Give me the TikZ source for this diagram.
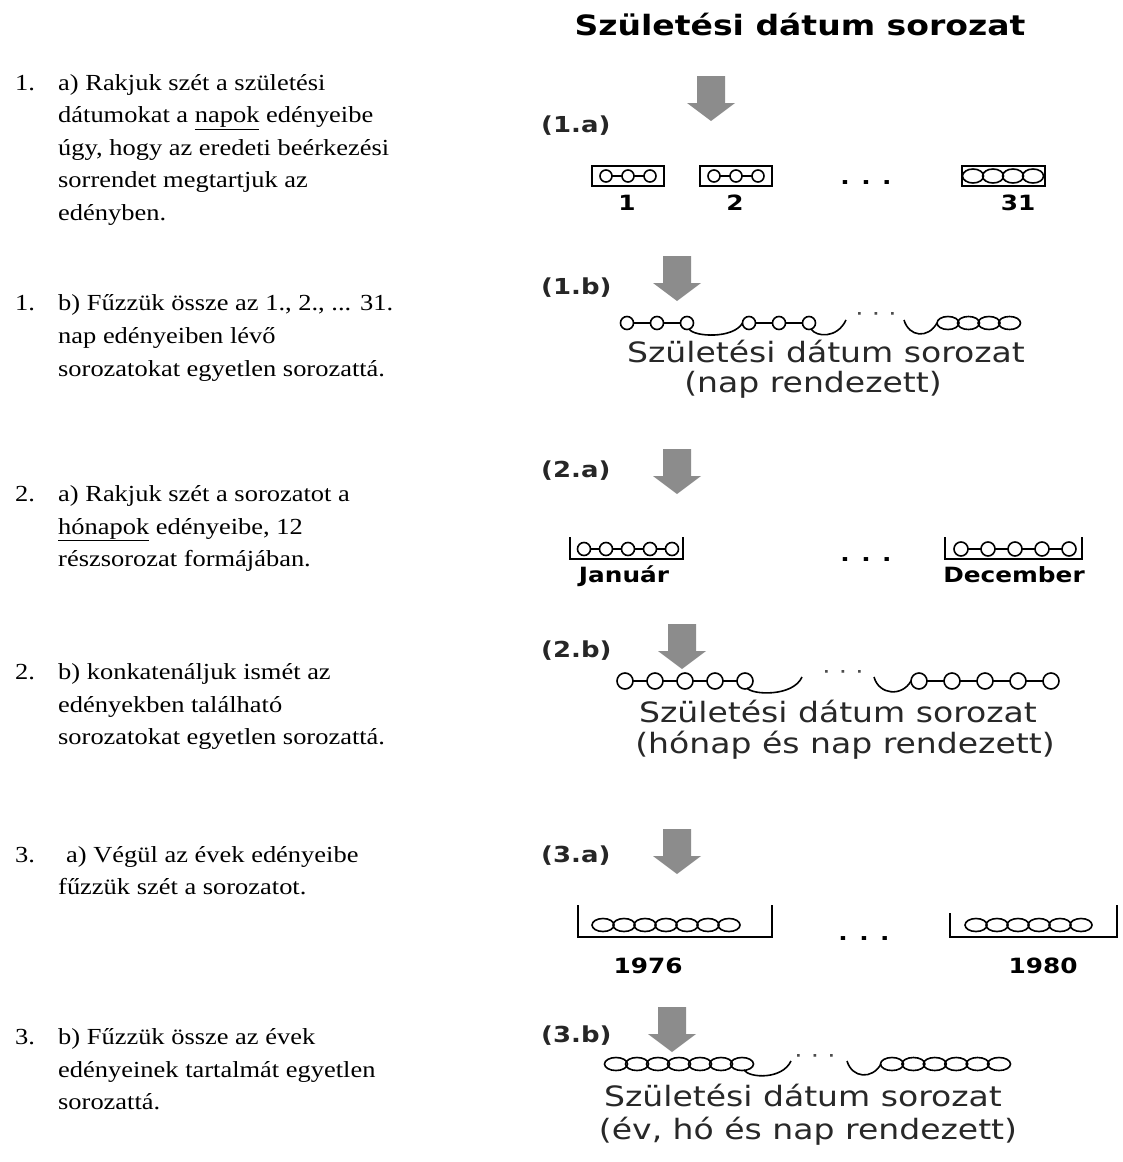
\documentclass[tikz,border=0pt]{standalone}
\usepackage{fontspec}
\setmainfont{Liberation Serif}[FakeStretch=1.15]
\newfontfamily\vfont{DejaVu Sans}[FakeStretch=1.18]
\definecolor{arrowgray}{RGB}{140,140,140}
\definecolor{txtgray}{RGB}{40,40,40}
\newcommand\grayarrow[2]{%
  \fill[arrowgray] (#1-14,#2) -- (#1+14,#2) -- (#1+14,#2+27) -- (#1+24,#2+27) -- (#1,#2+45) -- (#1-24,#2+27) -- (#1-14,#2+27) -- cycle;}
\newcommand\linked[5]{%
  \foreach \i in {1,...,#3}{\draw[ring] ({#1+(\i-1)*#4},#2) circle[radius=#5pt];}%
  \foreach \i in {2,...,#3}{\draw[ring] ({#1+(\i-2)*#4+#5},#2) -- ({#1+(\i-1)*#4-#5},#2);}%
}
\newcommand\rings[6]{%
  \foreach \i in {1,...,#3}{\draw[ring] ({#1+(\i-1)*#4},#2) ellipse[x radius=#5pt, y radius=#6pt];}%
}
\newcommand\swoosh[5]{%
  \draw[ring] (#1,{#3+(#4)}) .. controls (#1+5,#3+14) and (#2-9,#3+16) .. (#2,{#3+(#5)});}
\tikzset{
  lefttxt/.style={anchor=base west, inner sep=0pt, font=\fontsize{23}{28}\selectfont},
  steplbl/.style={anchor=base west, inner sep=0pt, font=\vfont\bfseries\fontsize{22}{26}\selectfont, text=black!85},
  binlbl/.style={anchor=base, inner sep=0pt, font=\vfont\bfseries\fontsize{21}{25}\selectfont},
  seqtxt/.style={anchor=base, inner sep=0pt, font=\vfont\fontsize{28}{32}\selectfont, text=txtgray},
  titletxt/.style={anchor=base, inner sep=0pt, font=\vfont\bfseries\fontsize{28}{32}\selectfont},
  chaindots/.style={anchor=center, inner sep=0pt, font=\vfont\fontsize{22}{22}\selectfont, text=black!70},
  bin/.style={line width=2pt},
  ring/.style={line width=1.6pt},
}
\begin{document}
\begin{tikzpicture}[x=1pt,y=-1pt]
\useasboundingbox (0,0) rectangle (1122,1162);
\fill[white] (0,0) rectangle (1122,1162);

% ---------- left column ----------
\node[lefttxt] (n1a) at (15,90) {1.};
\node[lefttxt] (t1a1) at (58,90) {a) Rakjuk szét a születési};
\node[lefttxt] (t1a2) at (58,122.5) {dátumokat a \underline{napok} edényeibe};
\node[lefttxt] (t1a3) at (58,155) {úgy, hogy az eredeti beérkezési};
\node[lefttxt] (t1a4) at (58,187.5) {sorrendet megtartjuk az};
\node[lefttxt] (t1a5) at (58,220) {edényben.};

\node[lefttxt] (n1b) at (15,310) {1.};
\node[lefttxt] (t1b1) at (58,310) {b) Fűzzük össze az 1., 2., ... 31.};
\node[lefttxt] (t1b2) at (58,343) {nap edényeiben lévő};
\node[lefttxt] (t1b3) at (58,376) {sorozatokat egyetlen sorozattá.};

\node[lefttxt] (n2a) at (15,501) {2.};
\node[lefttxt] (t2a1) at (58,501) {a) Rakjuk szét a sorozatot a};
\node[lefttxt] (t2a2) at (58,534) {\underline{hónapok} edényeibe, 12};
\node[lefttxt] (t2a3) at (58,566) {részsorozat formájában.};

\node[lefttxt] (n2b) at (15,679) {2.};
\node[lefttxt] (t2b1) at (58,679) {b) konkatenáljuk ismét az};
\node[lefttxt] (t2b2) at (58,712) {edényekben található};
\node[lefttxt] (t2b3) at (58,744) {sorozatokat egyetlen sorozattá.};

\node[lefttxt] (n3a) at (15,862) {3.};
\node[lefttxt] (t3a1) at (66,862) {a) Végül az évek edényeibe};
\node[lefttxt] (t3a2) at (58,894) {fűzzük szét a sorozatot.};

\node[lefttxt] (n3b) at (15,1044) {3.};
\node[lefttxt] (t3b1) at (58,1044) {b) Fűzzük össze az évek};
\node[lefttxt] (t3b2) at (58,1077) {edényeinek tartalmát egyetlen};
\node[lefttxt] (t3b3) at (58,1109) {sorozattá.};

% ---------- right column ----------
\node[titletxt] (title) at (800,35) {Születési dátum sorozat};

% step 1.a
\grayarrow{711}{76}
\node[steplbl] (s1a) at (541,132) {(1.a)};
\draw[bin] (592,166) rectangle (664,186);
\linked{606}{176}{3}{22}{6}
\draw[bin] (700,166) rectangle (772,186);
\linked{714}{176}{3}{22}{6}
\node[binlbl] (d1a) at (866,184) {. . .};
\draw[bin] (962,166) rectangle (1045,186);
\rings{973}{176}{4}{20}{10.5}{7}
\node[binlbl] (b1) at (627,210) {1};
\node[binlbl] (b2) at (735,210) {2};
\node[binlbl] (b31) at (1018,210) {31};

% step 1.b
\grayarrow{677}{256}
\node[steplbl] (s1b) at (541,294) {(1.b)};
\linked{627}{323}{3}{30}{6.5}
\swoosh{689}{742.5}{323}{6}{0}
\linked{749}{323}{3}{30}{6.5}
\swoosh{811}{846}{323}{6}{-3}
\node[chaindots] (c1b) at (876,317) {· · ·};
\swoosh{904}{937}{323}{-3}{0}
\rings{948}{323}{4}{20.5}{11}{6.5}
\node[seqtxt] (q1b1) at (826,362) {Születési dátum sorozat};
\node[seqtxt] (q1b2) at (813,392) {(nap rendezett)};

% step 2.a
\grayarrow{677}{449}
\node[steplbl] (s2a) at (541,477) {(2.a)};
\draw[bin] (570,537) -- (570,559) -- (683,559) -- (683,537);
\linked{584}{549}{5}{22}{6.5}
\node[binlbl] (d2a) at (866,561) {. . .};
\draw[bin] (945,537) -- (945,559) -- (1082,559) -- (1082,537);
\linked{961}{549}{5}{27}{7}
\node[binlbl] (bjan) at (624,582) {Január};
\node[binlbl] (bdec) at (1014,582) {December};

% step 2.b
\grayarrow{682}{624}
\node[steplbl] (s2b) at (541,657) {(2.b)};
\linked{625}{681}{5}{30}{8}
\swoosh{747}{802}{681}{7}{-4}
\node[chaindots] (c2b) at (843,675) {· · ·};
\swoosh{874}{911}{681}{-4}{0}
\linked{919}{681}{5}{33}{8}
\node[seqtxt] (q2b1) at (838,722) {Születési dátum sorozat};
\node[seqtxt] (q2b2) at (845,753) {(hónap és nap rendezett)};

% step 3.a
\grayarrow{677}{829}
\node[steplbl] (s3a) at (541,862) {(3.a)};
\draw[bin] (578,905) -- (578,937) -- (772,937) -- (772,905);
\rings{603}{925}{7}{21}{11}{6.5}
\node[binlbl] (d3a) at (864,940) {. . .};
\draw[bin] (950,913) -- (950,937) -- (1117,937) -- (1117,905);
\rings{976}{925}{6}{21}{11}{6.5}
\node[binlbl] (b1976) at (648,973) {1976};
\node[binlbl] (b1980) at (1043,973) {1980};

% step 3.b
\grayarrow{672}{1007}
\node[steplbl] (s3b) at (541,1042) {(3.b)};
\rings{616}{1064}{7}{21}{11.5}{6.5}
\swoosh{744}{791}{1064}{6}{-3}
\node[chaindots] (c3b) at (815,1059) {· · ·};
\swoosh{847}{881}{1064}{-3}{0}
\rings{892}{1064}{6}{21.4}{11.5}{6.5}
\node[seqtxt] (q3b1) at (803,1106) {Születési dátum sorozat};
\node[seqtxt] (q3b2) at (808,1139) {(év, hó és nap rendezett)};
\end{tikzpicture}
\end{document}
